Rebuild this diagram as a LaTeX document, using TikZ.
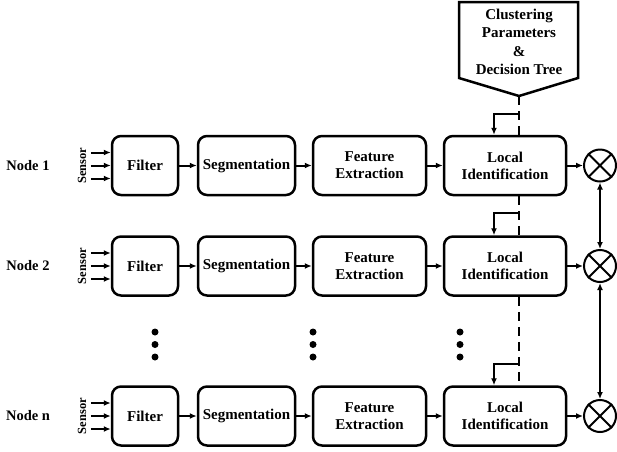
\documentclass[tikz,border=0pt]{standalone}
\usepackage{fontspec}
\setmainfont{Liberation Serif}
\usetikzlibrary{arrows.meta,calc}
\begin{document}
\begin{tikzpicture}[x=1pt,y=-1pt,
  blk/.style={draw, line width=2.5pt, rounded corners=9pt, font=\bfseries\fontsize{15}{17}\selectfont, align=center, inner sep=0pt, minimum height=59pt},
  arr/.style={-{Latex[length=7pt,width=6pt]}, line width=2pt},
  darr/.style={{Latex[length=7pt,width=6pt]}-{Latex[length=7pt,width=6pt]}, line width=2pt},
  mult/.style={draw, circle, line width=2pt, minimum size=32pt, inner sep=0pt},
  lbl/.style={font=\bfseries\fontsize{14.5}{17}\selectfont},
  sens/.style={font=\bfseries\fontsize{12.5}{14}\selectfont, rotate=90},
  dot/.style={fill, circle, minimum size=7pt, inner sep=0pt},
  dsh/.style={dashed, dash pattern=on 9pt off 6pt, line width=2.2pt}]
\useasboundingbox (0,0) rectangle (617,451);
% rows
\foreach \r/\y/\t in {1/165.5/1, 2/266/2, n/416/n}{
  \node[lbl] (N\r) at (28,\y) {Node \t};
  \node[sens] (S\r) at (82,\y) {Sensor};
  \node[blk, minimum width=66pt] (F\r) at (145,\y) {Filter};
  \node[blk, minimum width=97pt] (G\r) at (246.5,\y) {Segmentation};
  \node[blk, minimum width=113pt] (E\r) at (369.5,\y) {Feature\\Extraction};
  \node[blk, minimum width=122pt] (L\r) at (505,\y) {Local\\Identification};
  \node[mult] (C\r) at (600,\y) {};
  \draw[line width=2pt] (C\r.north east) -- (C\r.south west) (C\r.north west) -- (C\r.south east);
  \foreach \dy in {-13,0,13}{
    \draw[arr] ($(F\r.west)+(-20,\dy)$) -- ($(F\r.west)+(0,\dy)$);
  }
  \draw[arr] (F\r) -- (G\r);
  \draw[arr] (G\r) -- (E\r);
  \draw[arr] (E\r) -- (L\r);
  \draw[arr] (L\r) -- (C\r);
}
\draw[darr] (C1) -- (C2);
\draw[darr] (C2) -- (Cn);
% dots
\foreach \x/\k in {155/a,313/b,460/c}{
  \node[dot] (\k1) at (\x,332) {};
  \node[dot] (\k2) at (\x,344.5) {};
  \node[dot] (\k3) at (\x,357) {};
}
% clustering box
\coordinate (tip) at (519,96);
\draw[line width=2.5pt, line join=miter] (459,2) -- (578,2) -- (578,78) -- (tip) -- (459,78) -- cycle;
\node[align=center, font=\bfseries\fontsize{15}{18.5}\selectfont] (clust) at (519,42) {Clustering\\Parameters\\\&\\Decision Tree};
% dashed distribution line
\draw[dsh] (tip) -- (tip |- L1.north);
\draw[dsh] (tip |- L1.south) -- (tip |- L2.north);
\draw[dsh] (tip |- L2.south) -- (tip |- Ln.north);
% branches
\coordinate (b1) at (519,114);
\coordinate (b2) at (519,213);
\coordinate (bn) at (519,364);
\draw[arr] (b1) -- (494,114) -- (494,114 |- L1.north);
\draw[arr] (b2) -- (494,213) -- (494,213 |- L2.north);
\draw[arr] (bn) -- (494,364) -- (494,364 |- Ln.north);
\end{tikzpicture}
\end{document}
